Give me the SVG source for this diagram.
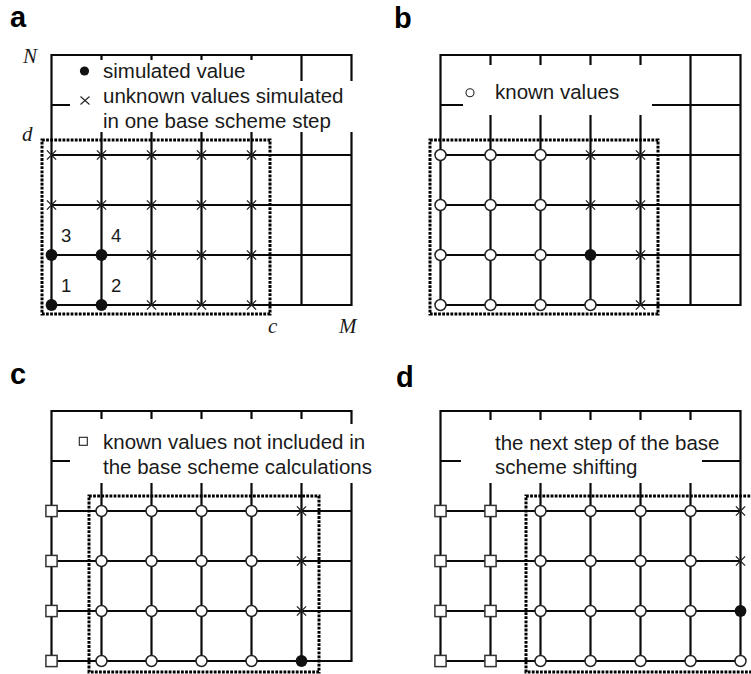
<svg xmlns="http://www.w3.org/2000/svg" width="751" height="674" viewBox="0 0 751 674">
<style>
.grid{stroke:#0a0a0a;stroke-width:2.2;fill:none;stroke-linecap:square}
.box{stroke:#000;stroke-width:3;stroke-dasharray:2.8 1.3;fill:none}
.bg{fill:#fff;stroke:none}
.lbl{font-family:"Liberation Sans",Arial,sans-serif;font-weight:bold;font-size:29px;fill:#000}
.leg{font-family:"Liberation Sans",Arial,sans-serif;font-size:20.5px;fill:#1a1a1a}
.num{font-family:"Liberation Sans",Arial,sans-serif;font-size:18.5px;fill:#1a1a1a}
.ax{font-family:"Liberation Serif","Times New Roman",serif;font-style:italic;font-size:21px;fill:#1a1a1a}
</style>
<defs>
<path id="xm" d="M-4.6,-4.6L4.6,4.6M-4.6,4.6L4.6,-4.6" stroke="#222" stroke-width="1.3" fill="none"/>
<circle id="om" r="5.5" fill="#fff" stroke="#222" stroke-width="1.5"/>
<circle id="fm" r="5.9" fill="#111"/>
<rect id="sm" x="-5.6" y="-5.6" width="11.2" height="11.2" fill="#fff" stroke="#333" stroke-width="1.5"/>
<g id="gridA">
<path class="grid" d="M51.5,55H351.5M51.5,105H351.5M51.5,155H351.5M51.5,205H351.5M51.5,255H351.5M51.5,305H351.5M51.5,55V305M101.5,55V305M151.5,55V305M201.5,55V305M251.5,55V305M301.5,55V305M351.5,55V305"/>
</g>
</defs>

<g id="panel-a">
<text class="lbl" x="10" y="27">a</text>
<g id="a-connectors"><use href="#gridA"/></g>
<g id="a-legend">
<rect class="bg" x="70" y="60" width="212" height="22"/>
<rect class="bg" x="70" y="81" width="288" height="51"/>
<circle cx="84.5" cy="71" r="4.6" fill="#111"/>
<path d="M80.5,96.5L89.5,104.5M80.5,104.5L89.5,96.5" stroke="#222" stroke-width="1.1"/>
<text class="leg" x="103" y="78">simulated value</text>
<text class="leg" x="103" y="103">unknown values simulated</text>
<text class="leg" x="103" y="128">in one base scheme step</text>
</g>
<rect class="box" x="42" y="140" width="228" height="174"/>
<g id="a-nodes">
<use href="#xm" x="51.5" y="155"/><use href="#xm" x="101.5" y="155"/><use href="#xm" x="151.5" y="155"/><use href="#xm" x="201.5" y="155"/><use href="#xm" x="251.5" y="155"/>
<use href="#xm" x="51.5" y="205"/><use href="#xm" x="101.5" y="205"/><use href="#xm" x="151.5" y="205"/><use href="#xm" x="201.5" y="205"/><use href="#xm" x="251.5" y="205"/>
<use href="#fm" x="51.5" y="255"/><use href="#fm" x="101.5" y="255"/><use href="#xm" x="151.5" y="255"/><use href="#xm" x="201.5" y="255"/><use href="#xm" x="251.5" y="255"/>
<use href="#fm" x="51.5" y="305"/><use href="#fm" x="101.5" y="305"/><use href="#xm" x="151.5" y="305"/><use href="#xm" x="201.5" y="305"/><use href="#xm" x="251.5" y="305"/>
</g>
<text class="num" x="61" y="242">3</text>
<text class="num" x="111" y="242">4</text>
<text class="num" x="61" y="292">1</text>
<text class="num" x="111" y="292">2</text>
<text class="ax" x="23" y="63">N</text>
<text class="ax" x="22" y="141">d</text>
<text class="ax" x="268" y="333">c</text>
<text class="ax" x="339" y="333">M</text>
</g>

<g id="panel-b">
<text class="lbl" x="394" y="28">b</text>
<g id="b-connectors"><use href="#gridA" x="389" y="0"/></g>
<g id="b-legend">
<rect class="bg" x="463" y="65" width="189" height="50"/>
<circle cx="470" cy="92.7" r="4" fill="#fff" stroke="#222" stroke-width="1.1"/>
<text class="leg" x="495" y="98.5">known values</text>
</g>
<rect class="box" x="430" y="140" width="228" height="174"/>
<g id="b-nodes">
<use href="#om" x="440.5" y="155"/><use href="#om" x="490.5" y="155"/><use href="#om" x="540.5" y="155"/><use href="#xm" x="590.5" y="155"/><use href="#xm" x="640.5" y="155"/>
<use href="#om" x="440.5" y="205"/><use href="#om" x="490.5" y="205"/><use href="#om" x="540.5" y="205"/><use href="#xm" x="590.5" y="205"/><use href="#xm" x="640.5" y="205"/>
<use href="#om" x="440.5" y="255"/><use href="#om" x="490.5" y="255"/><use href="#om" x="540.5" y="255"/><use href="#fm" x="590.5" y="255"/><use href="#xm" x="640.5" y="255"/>
<use href="#om" x="440.5" y="305"/><use href="#om" x="490.5" y="305"/><use href="#om" x="540.5" y="305"/><use href="#om" x="590.5" y="305"/><use href="#xm" x="640.5" y="305"/>
</g>
</g>

<g id="panel-c">
<text class="lbl" x="10" y="384">c</text>
<g id="c-connectors"><use href="#gridA" x="0" y="356"/></g>
<g id="c-legend">
<rect class="bg" x="70" y="419" width="272" height="64"/>
<rect class="bg" x="340" y="424" width="34" height="59"/>
<rect x="79.3" y="437.3" width="8" height="8" fill="#fff" stroke="#222" stroke-width="1.1"/>
<text class="leg" x="103" y="449">known values not included in</text>
<text class="leg" x="103" y="474">the base scheme calculations</text>
</g>
<rect class="box" x="89" y="496" width="230" height="176"/>
<g id="c-nodes">
<use href="#sm" x="51.5" y="511"/><use href="#om" x="101.5" y="511"/><use href="#om" x="151.5" y="511"/><use href="#om" x="201.5" y="511"/><use href="#om" x="251.5" y="511"/><use href="#xm" x="301.5" y="511"/>
<use href="#sm" x="51.5" y="561"/><use href="#om" x="101.5" y="561"/><use href="#om" x="151.5" y="561"/><use href="#om" x="201.5" y="561"/><use href="#om" x="251.5" y="561"/><use href="#xm" x="301.5" y="561"/>
<use href="#sm" x="51.5" y="611"/><use href="#om" x="101.5" y="611"/><use href="#om" x="151.5" y="611"/><use href="#om" x="201.5" y="611"/><use href="#om" x="251.5" y="611"/><use href="#xm" x="301.5" y="611"/>
<use href="#sm" x="51.5" y="661"/><use href="#om" x="101.5" y="661"/><use href="#om" x="151.5" y="661"/><use href="#om" x="201.5" y="661"/><use href="#om" x="251.5" y="661"/><use href="#fm" x="301.5" y="661"/>
</g>
</g>

<g id="panel-d">
<text class="lbl" x="396" y="387">d</text>
<g id="d-connectors"><use href="#gridA" x="389" y="356"/></g>
<g id="d-legend">
<rect class="bg" x="461" y="420" width="241" height="63"/>
<text class="leg" x="495" y="450">the next step of the base</text>
<text class="leg" x="495" y="473.5">scheme shifting</text>
</g>
<rect class="box" x="526" y="496" width="232" height="176"/>
<g id="d-nodes">
<use href="#sm" x="440.5" y="511"/><use href="#sm" x="490.5" y="511"/><use href="#om" x="540.5" y="511"/><use href="#om" x="590.5" y="511"/><use href="#om" x="640.5" y="511"/><use href="#om" x="690.5" y="511"/><use href="#xm" x="740.5" y="511"/>
<use href="#sm" x="440.5" y="561"/><use href="#sm" x="490.5" y="561"/><use href="#om" x="540.5" y="561"/><use href="#om" x="590.5" y="561"/><use href="#om" x="640.5" y="561"/><use href="#om" x="690.5" y="561"/><use href="#xm" x="740.5" y="561"/>
<use href="#sm" x="440.5" y="611"/><use href="#sm" x="490.5" y="611"/><use href="#om" x="540.5" y="611"/><use href="#om" x="590.5" y="611"/><use href="#om" x="640.5" y="611"/><use href="#om" x="690.5" y="611"/><use href="#fm" x="740.5" y="611"/>
<use href="#sm" x="440.5" y="661"/><use href="#sm" x="490.5" y="661"/><use href="#om" x="540.5" y="661"/><use href="#om" x="590.5" y="661"/><use href="#om" x="640.5" y="661"/><use href="#om" x="690.5" y="661"/><use href="#om" x="740.5" y="661"/>
</g>
</g>
</svg>
